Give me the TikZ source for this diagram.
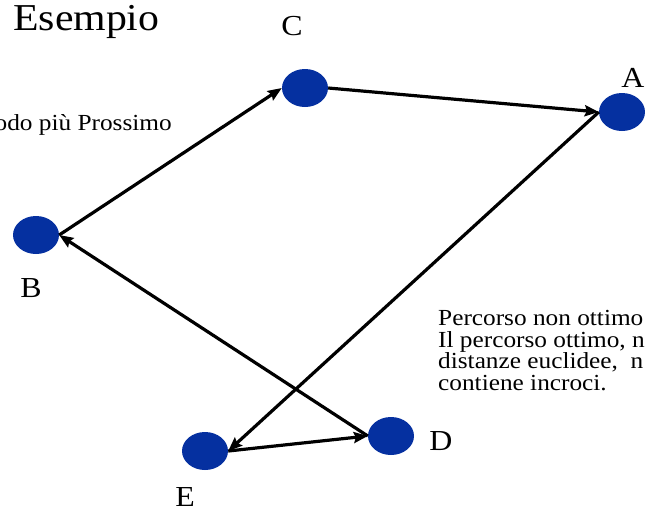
\documentclass[tikz,border=0pt]{standalone}
\usepackage{fontspec}
\setmainfont[FakeStretch=1.1]{Liberation Serif}
\usepackage{tikz}
\usetikzlibrary{arrows.meta,shapes.geometric}
\usepackage{xcolor}
\definecolor{nodeblue}{HTML}{0530A0}
\tikzset{
  city/.style={ellipse, draw=none, fill=nodeblue, minimum width=46pt, minimum height=38pt, inner sep=0pt},
  citylabel/.style={anchor=base, inner sep=0pt, font=\fontsize{29}{30}\selectfont},
  notes/.style={inner sep=0pt, align=left, font=\fontsize{23}{21.7}\selectfont},
  tour/.style={-{Stealth[length=14pt, width=11pt, inset=2pt]}, line width=3.2pt, draw=black}
}
\begin{document}
\begin{tikzpicture}[x=1pt, y=-1pt]
  \useasboundingbox (0,0) rectangle (645,506);
  \clip (0,0) rectangle (645,506);
  % titolo e note
  \node[anchor=base west, inner sep=0pt, font=\fontsize{38}{40}\selectfont] (title) at (13,30) {Esempio};
  \node[notes, anchor=base east] (method) at (172,130) {odo più Prossimo};
  \node[notes, anchor=north west] (remark) at (438,310) {Percorso non ottimo\\Il percorso ottimo, n\\distanze euclidee,~ n\\contiene incroci.};
  % citta
  \node[city] (c) at (305,88) {};
  \node[city] (a) at (622,112) {};
  \node[city] (b) at (36,235) {};
  \node[city] (e) at (205,451) {};
  \node[city] (d) at (391,436) {};
  \node[citylabel] (labc) at (292,35) {C};
  \node[citylabel] (laba) at (633,87) {A};
  \node[citylabel] (labb) at (31,297) {B};
  \node[citylabel] (labd) at (441,450) {D};
  \node[citylabel] (labe) at (185,506) {E};
  % giro
  \draw[tour] (b.east) -- (c.west);
  \draw[tour] (c.east) -- (a.west);
  \draw[tour] (a.west) -- (e.east);
  \draw[tour] (e.east) -- (d.west);
  \draw[tour] (d.west) -- (b.east);
\end{tikzpicture}
\end{document}
